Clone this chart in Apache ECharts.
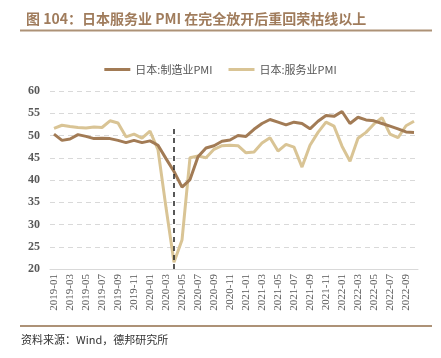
<!DOCTYPE html>
<html>
<head>
<meta charset="utf-8">
<script src="https://cdn.jsdelivr.net/npm/echarts@6/dist/echarts.min.js"></script>
<style>html,body{margin:0;padding:0;background:#fff}#c{width:441px;height:358px}</style>
</head>
<body>
<div id="c"></div>
<script>
var categories = ['2019-01','2019-02','2019-03','2019-04','2019-05','2019-06','2019-07','2019-08','2019-09','2019-10','2019-11','2019-12',
'2020-01','2020-02','2020-03','2020-04','2020-05','2020-06','2020-07','2020-08','2020-09','2020-10','2020-11','2020-12',
'2021-01','2021-02','2021-03','2021-04','2021-05','2021-06','2021-07','2021-08','2021-09','2021-10','2021-11','2021-12',
'2022-01','2022-02','2022-03','2022-04','2022-05','2022-06','2022-07','2022-08','2022-09','2022-10'];
var manufacturing = [50.3,48.9,49.2,50.2,49.8,49.3,49.4,49.3,48.9,48.4,48.9,48.4,
48.8,47.8,44.8,41.9,38.4,40.1,45.2,47.2,47.7,48.7,49.0,50.0,
49.8,51.4,52.7,53.6,53.0,52.4,53.0,52.7,51.5,53.2,54.5,54.3,
55.4,52.7,54.1,53.5,53.3,52.7,52.1,51.5,50.8,50.7];
var services = [51.6,52.3,52.0,51.8,51.7,51.9,51.8,53.3,52.8,49.7,50.3,49.4,
51.0,46.8,33.8,21.5,26.5,45.0,45.4,45.0,46.9,47.7,47.8,47.7,
46.1,46.3,48.3,49.5,46.5,48.0,47.4,42.9,47.8,50.7,53.0,52.1,
47.6,44.2,49.4,50.7,52.6,54.0,50.3,49.5,52.2,53.2];
var yTicks = [20,25,30,35,40,45,50,55,60];
var eventMonth = '2020-04';

var chart = echarts.init(document.getElementById('c'));
chart.setOption({
  animation: false,
  title: {
    text: '图 104：日本服务业 PMI 在完全放开后重回荣枯线以上',
    left: 21, top: 7,
    textStyle: {fontSize: 14, fontWeight: 'bold', color: '#a07c5c', fontFamily: 'Noto Sans CJK SC'}
  },
  graphic: [
    {type: 'rect', shape: {x: 20, y: 29.5, width: 412, height: 2}, style: {fill: '#ad9277'}},
    {type: 'rect', shape: {x: 20, y: 325, width: 412, height: 2}, style: {fill: '#ad9277'}},
    {type: 'text', left: 21, top: 334, style: {text: '资料来源：Wind，德邦研究所', fontSize: 11, fill: '#333', fontFamily: 'Noto Sans CJK SC'}}
  ],
  legend: {
    top: 59, left: 'center',
    icon: 'rect', itemWidth: 26, itemHeight: 3, itemGap: 16,
    textStyle: {fontSize: 11, color: '#555', fontFamily: 'Noto Sans CJK SC'},
    data: ['日本:制造业PMI', '日本:服务业PMI']
  },
  grid: {left: 50, right: 23, top: 91, bottom: 89},
  xAxis: {
    type: 'category',
    data: categories,
    boundaryGap: true,
    axisLine: {lineStyle: {color: '#d9d9d9'}},
    axisTick: {interval: 1, length: 4, lineStyle: {color: '#d9d9d9'}},
    axisLabel: {interval: 1, rotate: 90, fontSize: 11, color: '#595959', fontFamily: 'Liberation Serif', margin: 5}
  },
  yAxis: {
    type: 'value', min: 20, max: 60, interval: 5,
    axisLine: {show: false}, axisTick: {show: false},
    axisLabel: {fontSize: 12, fontWeight: 'bold', color: '#595959', fontFamily: 'Liberation Serif', margin: 10},
    splitLine: {lineStyle: {color: '#d9d9d9', type: [5, 4]}}
  },
  series: [
    {
      name: '日本:制造业PMI', type: 'line', data: manufacturing,
      symbol: 'none', z: 3,
      lineStyle: {width: 3, color: '#a27b55'}, itemStyle: {color: '#a27b55'},
      markLine: {
        silent: true, symbol: 'none', label: {show: false},
        lineStyle: {color: '#222', type: [5, 4], width: 1.5},
        data: [[{xAxis: eventMonth, yAxis: 20}, {xAxis: eventMonth, yAxis: 52}]]
      }
    },
    {
      name: '日本:服务业PMI', type: 'line', data: services,
      symbol: 'none', z: 2,
      lineStyle: {width: 3, color: '#d9c495'}, itemStyle: {color: '#d9c495'}
    }
  ]
});
</script>
</body>
</html>
